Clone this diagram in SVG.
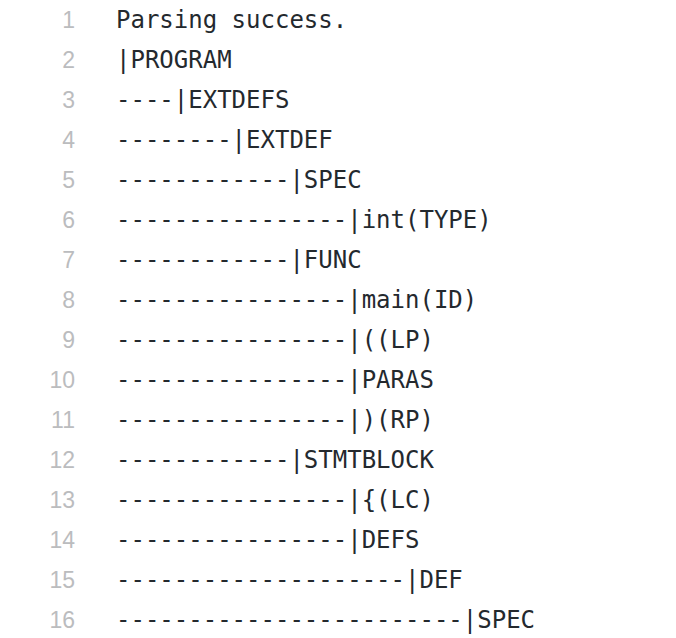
<svg xmlns="http://www.w3.org/2000/svg" width="676" height="638" viewBox="0 0 676 638">
<style>
.n{font-family:"Liberation Sans","DejaVu Sans",sans-serif;font-size:23px;fill:#bbbcbe;text-anchor:end}
.c{font-family:"DejaVu Sans Mono",monospace;font-size:24px;fill:#24292e;white-space:pre}
</style>
<rect width="676" height="638" fill="#ffffff"/>
<g id="linenumbers">
<text class="n" x="75" y="28">1</text>
<text class="n" x="75" y="68">2</text>
<text class="n" x="75" y="108">3</text>
<text class="n" x="75" y="148">4</text>
<text class="n" x="75" y="188">5</text>
<text class="n" x="75" y="228">6</text>
<text class="n" x="75" y="268">7</text>
<text class="n" x="75" y="308">8</text>
<text class="n" x="75" y="348">9</text>
<text class="n" x="75" y="388">10</text>
<text class="n" x="75" y="428">11</text>
<text class="n" x="75" y="468">12</text>
<text class="n" x="75" y="508">13</text>
<text class="n" x="75" y="548">14</text>
<text class="n" x="75" y="588">15</text>
<text class="n" x="75" y="628">16</text>
</g>
<g id="code">
<text class="c" x="116" y="28">Parsing success.</text>
<text class="c" x="116" y="68">|PROGRAM</text>
<text class="c" x="116" y="108">----|EXTDEFS</text>
<text class="c" x="116" y="148">--------|EXTDEF</text>
<text class="c" x="116" y="188">------------|SPEC</text>
<text class="c" x="116" y="228">----------------|int(TYPE)</text>
<text class="c" x="116" y="268">------------|FUNC</text>
<text class="c" x="116" y="308">----------------|main(ID)</text>
<text class="c" x="116" y="348">----------------|((LP)</text>
<text class="c" x="116" y="388">----------------|PARAS</text>
<text class="c" x="116" y="428">----------------|)(RP)</text>
<text class="c" x="116" y="468">------------|STMTBLOCK</text>
<text class="c" x="116" y="508">----------------|{(LC)</text>
<text class="c" x="116" y="548">----------------|DEFS</text>
<text class="c" x="116" y="588">--------------------|DEF</text>
<text class="c" x="116" y="628">------------------------|SPEC</text>
</g>
</svg>
